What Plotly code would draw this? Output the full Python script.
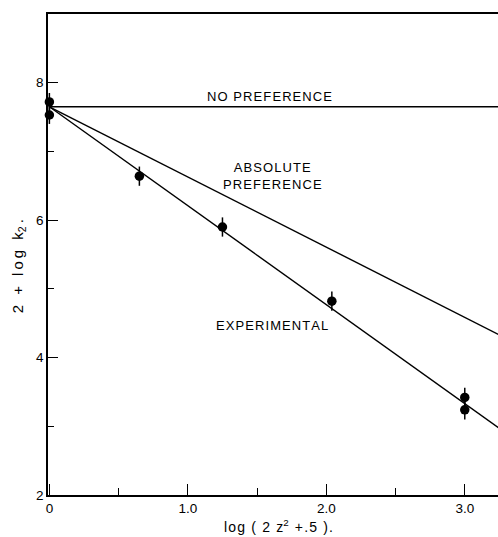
import plotly.graph_objects as go

# Measured rate constants (with vertical uncertainty bars)
x_exp = [0.0, 0.0, 0.65, 1.25, 2.04, 3.0, 3.0]
y_exp = [7.72, 7.53, 6.64, 5.90, 4.82, 3.42, 3.24]
y_err = [0.13, 0.13, 0.14, 0.14, 0.14, 0.14, 0.14]

# Reference lines (end points)
line_x = [0.0, 3.25]
no_pref_y = [7.65, 7.65]
abs_pref_y = [7.65, 4.33]
experimental_y = [7.65, 2.97]

x_ticks = [0, 1, 2, 3]
x_tick_text = ["0", "1.0", "2.0", "3.0"]
x_minor = [0.5, 1.5, 2.5]
y_ticks = [2, 4, 6, 8]
y_minor = [3, 5, 7]

FONT = "Liberation Sans"
INK = "black"
HAIR = "\u200a"
THIN = "\u2009"


def spaced(s, gap=HAIR):
    """Open up the lettering a little."""
    return gap.join(s)


fig = go.Figure()

for ys in (no_pref_y, abs_pref_y, experimental_y):
    fig.add_trace(go.Scatter(
        x=line_x, y=ys, mode="lines",
        line=dict(color=INK, width=1.4),
        showlegend=False, hoverinfo="skip",
    ))

fig.add_trace(go.Scatter(
    x=x_exp, y=y_exp, mode="markers",
    marker=dict(color=INK, size=9.5, symbol="circle"),
    error_y=dict(type="data", array=y_err, color=INK, thickness=1.5, width=0),
    showlegend=False, cliponaxis=False,
))

labels = [
    (1.59, 7.80, spaced("NO PREFERENCE")),
    (1.61, 6.64, spaced("ABSOLUTE") + "<br>" + spaced("PREFERENCE")),
    (1.61, 4.46, spaced("EXPERIMENTAL")),
]
for lx, ly, txt in labels:
    fig.add_annotation(
        x=lx, y=ly, text=txt, showarrow=False,
        font=dict(family=FONT, size=13, color=INK),
        xanchor="center", yanchor="middle",
    )

# Axis titles placed as free annotations
fig.add_annotation(
    xref="paper", yref="paper", x=0.512, y=-0.064,
    text=spaced("log ( 2 z") + "<sup>2</sup>" + HAIR + spaced(" +.5 )."),
    showarrow=False, font=dict(family=FONT, size=14, color=INK),
    xanchor="center", yanchor="middle",
)
fig.add_annotation(
    xref="paper", yref="paper", x=-0.066, y=0.476,
    text=spaced("2 + log k", THIN) + "<sub>2</sub>" + THIN + ".",
    textangle=-90, showarrow=False,
    font=dict(family=FONT, size=15, color=INK),
    xanchor="center", yanchor="middle",
)

fig.update_layout(
    width=498, height=537,
    margin=dict(l=48, r=0, t=14, b=42),
    paper_bgcolor="white", plot_bgcolor="white",
    font=dict(family=FONT, size=12, color=INK),
    xaxis=dict(
        range=[-0.01, 3.24],
        tickmode="array", tickvals=x_ticks, ticktext=x_tick_text,
        ticks="inside", ticklen=11, tickwidth=1.3, tickcolor=INK,
        minor=dict(tickmode="array", tickvals=x_minor, ticks="inside",
                   ticklen=7, tickwidth=1.2, tickcolor=INK),
        showline=True, linecolor=INK, linewidth=1.5, mirror=True,
        showgrid=False, zeroline=False,
        tickfont=dict(family=FONT, size=13.5),
    ),
    yaxis=dict(
        range=[2, 9],
        tickmode="array", tickvals=y_ticks,
        ticks="inside", ticklen=10, tickwidth=1.3, tickcolor=INK,
        minor=dict(tickmode="array", tickvals=y_minor, ticks="inside",
                   ticklen=6, tickwidth=1.2, tickcolor=INK),
        showline=True, linecolor=INK, linewidth=1.5, mirror=False,
        showgrid=False, zeroline=False,
        tickfont=dict(family=FONT, size=13.5),
    ),
)

fig.write_html("out.html")
